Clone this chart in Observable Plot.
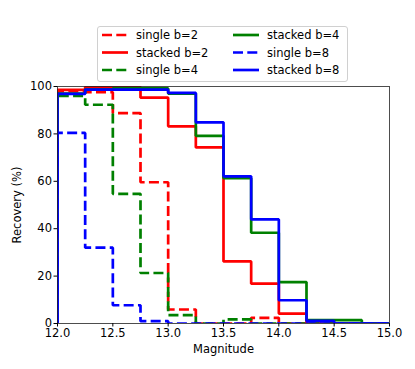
<!DOCTYPE html>
<html><head><meta charset="utf-8">
<script src="https://cdn.jsdelivr.net/npm/d3@7"></script>
<script src="https://cdn.jsdelivr.net/npm/@observablehq/plot@0.6"></script>
<style>
html,body{margin:0;padding:0;background:#fff;}
#wrap{position:relative;width:415px;height:369px;font-family:"DejaVu Sans",sans-serif;}
#legend{position:absolute;left:97px;top:26px;width:251px;height:56px;border:1px solid #d0d0d0;border-radius:3px;background:rgba(255,255,255,0.8);box-sizing:border-box;}
</style>
</head><body>
<div id="wrap"></div>
<script>
// Bin left edges (magnitude)
const binStarts = [12.0, 12.25, 12.5, 12.75, 13.0, 13.25, 13.5, 13.75, 14.0, 14.25, 14.5, 14.75];
const binEnd = 15.0;
// Recovery (%) per bin
const singleB2  = [98.0, 97.6, 88.8, 59.6, 5.9, 0, 0, 2.4, 0, 0, 0, 0];
const stackedB2 = [98.6, 99.8, 99.8, 95.3, 83.2, 74.3, 26.2, 16.8, 4.2, 0, 0, 0];
const singleB4  = [96.0, 92.3, 54.7, 21.3, 3.5, 0, 1.7, 0, 0, 0, 0, 0];
const stackedB4 = [97.0, 98.8, 99.2, 99.2, 97.0, 79.2, 61.3, 38.3, 17.5, 1.4, 1.4, 0];
const singleB8  = [80.4, 32.0, 7.7, 1.0, 0, 0, 0, 0, 0, 0, 0, 0];
const stackedB8 = [96.9, 98.7, 98.7, 98.7, 97.3, 84.9, 62.1, 43.9, 9.8, 1.1, 0, 0];

const seriesNames = ["single b=2", "stacked b=2", "single b=4", "stacked b=4", "single b=8", "stacked b=8"];
const seriesValues = [singleB2, stackedB2, singleB4, stackedB4, singleB8, stackedB8];
const seriesColors = ["#ff0000", "#ff0000", "#008000", "#008000", "#0000ff", "#0000ff"];
const seriesDashed = [true, false, true, false, true, false];

const xTicks = [12.0, 12.5, 13.0, 13.5, 14.0, 14.5, 15.0];
const yTicks = [0, 20, 40, 60, 80, 100];

const DASH = "10,4.3";
const LW = 2.7;

function stepPoints(vals) {
  const pts = [{x: binStarts[0], y: 0}];
  binStarts.forEach((b, i) => pts.push({x: b, y: vals[i]}));
  pts.push({x: binEnd, y: 0});
  return pts;
}

const marks = [];
seriesValues.forEach((vals, i) => {
  marks.push(Plot.line(stepPoints(vals), {
    x: "x", y: "y", curve: "step-after",
    stroke: seriesColors[i], strokeWidth: LW,
    strokeDasharray: seriesDashed[i] ? DASH : null,
    strokeLinecap: "butt", strokeLinejoin: "miter",
    clip: true
  }));
});

const chart = Plot.plot({
  width: 415, height: 369,
  marginLeft: 57, marginRight: 26, marginTop: 86, marginBottom: 46,
  style: {fontFamily: "DejaVu Sans", fontSize: "11.5px", color: "black", background: "white"},
  x: {domain: [12, 15]},
  y: {domain: [0, 100]},
  marks: [
    ...marks,
    Plot.frame({stroke: "#222", strokeWidth: 0.8}),
    Plot.axisX({ticks: xTicks, tickSize: 3.5, tickPadding: 1.5, tickFormat: d3.format(".1f"),
      label: "Magnitude", labelAnchor: "center", labelArrow: "none", labelOffset: 29}),
    Plot.axisY({ticks: yTicks, tickSize: 3.5, tickPadding: 2,
      label: "Recovery (%)", labelAnchor: "center", labelArrow: "none", labelOffset: 45})
  ]
});
const wrap = document.getElementById("wrap");
wrap.appendChild(chart);

// Legend
const leg = d3.select(wrap).append("div").attr("id", "legend");
const svg = leg.append("svg").attr("width", 251).attr("height", 56)
  .style("position", "absolute").style("left", "-1px").style("top", "-1px")
  .style("font-family", "DejaVu Sans").style("font-size", "11.5px");
const colX = [5, 136];
const rowY = [9, 26.5, 44];
seriesNames.forEach((name, i) => {
  const col = i < 3 ? 0 : 1;
  const row = i % 3;
  const x0 = colX[col], y0 = rowY[row];
  svg.append("line").attr("x1", x0).attr("x2", x0 + 26).attr("y1", y0).attr("y2", y0)
    .attr("stroke", seriesColors[i]).attr("stroke-width", LW)
    .attr("stroke-dasharray", seriesDashed[i] ? DASH : null);
  svg.append("text").attr("x", x0 + 34).attr("y", y0).attr("dy", "0.35em")
    .attr("fill", "black").text(name);
});
</script>
</body></html>
